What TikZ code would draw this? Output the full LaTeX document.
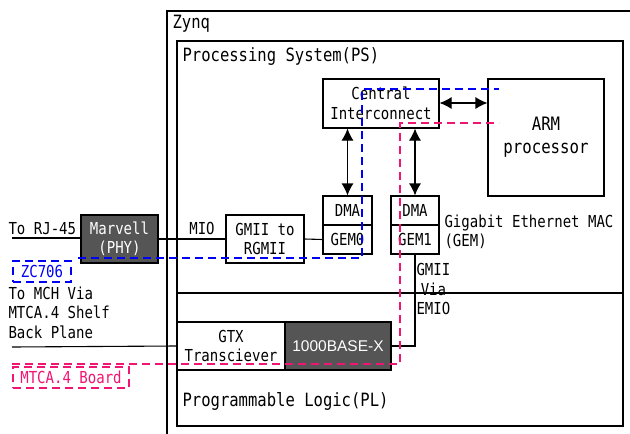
\documentclass[tikz,border=0pt]{standalone}
\usepackage{fontspec}
\setmainfont{DejaVu Sans Mono}[FakeStretch=0.85]
\newfontfamily\basefont{Liberation Sans}
\usetikzlibrary{positioning,arrows.meta}
\definecolor{darkgem}{RGB}{85,85,85}
\definecolor{zcblue}{RGB}{0,0,245}
\definecolor{mtcapink}{RGB}{240,20,115}
\begin{document}
\begin{tikzpicture}[
    x=1pt, y=-1pt,
    line width=1.1pt,
    box/.style={rectangle, draw, fill=white, inner sep=0pt, align=center, font=\fontsize{16.5}{19.5}\selectfont},
    darkbox/.style={box, fill=darkgem, text=white},
    title/.style={anchor=west, inner sep=0pt, font=\fontsize{18.3}{20}\selectfont},
    lbl/.style={inner sep=0pt, align=left, font=\fontsize{16.5}{19.5}\selectfont},
    zone/.style={dashed, dash pattern=on 8pt off 5pt, line width=1.2pt},
    tag/.style={draw, zone, inner sep=0pt, minimum height=21pt, font=\fontsize{16.5}{16}\selectfont},
    arrow/.style={{Latex[length=12pt,width=12pt]}-{Latex[length=12pt,width=12pt]}}
]
    \useasboundingbox (0,0) rectangle (630,434);

    % Zynq and PS / PL
    \draw (167,434) |- (630,11);
    \draw (177,41) rectangle (623,426);
    \draw (177,293) -- (623,293);
    \node[title] (zynq) at (172,24) {Zynq};
    \node[title] (ps) at (182,57) {Processing System(PS)};
    \node[title] (pl) at (182,401) {Programmable Logic(PL)};

    % PS blocks
    \node[box, minimum width=116pt, minimum height=49pt] (ci) at (381,103.5) {Central\\Interconnect};
    \node[box, minimum width=116pt, minimum height=117pt, font=\fontsize{18.5}{23}\selectfont] (arm) at (546,137.5) {ARM\\processor};
    \node[box, minimum width=49pt, minimum height=29pt] (dma0) at (347.5,210.5) {DMA};
    \node[box, minimum width=49pt, minimum height=29pt] (gem0) at (347.5,239.5) {GEM0};
    \node[box, minimum width=48pt, minimum height=29pt] (dma1) at (415,210.5) {DMA};
    \node[box, minimum width=48pt, minimum height=29pt] (gem1) at (415,239.5) {GEM1};
    \node[lbl, anchor=north west] (mac) at (444,214) {Gigabit Ethernet MAC\\(GEM)};
    \node[box, minimum width=78pt, minimum height=48pt] (rgmii) at (265,239) {GMII to\\RGMII};

    % PL blocks
    \node[box, minimum width=108pt, minimum height=48pt] (gtx) at (231,346) {GTX\\Transciever};
    \node[darkbox, minimum width=106pt, minimum height=48pt, font=\basefont\fontsize{15.5}{16}\selectfont] (base) at (338,346) {1000BASE-X};
    \node[lbl, align=center, anchor=north west] (emio) at (416,263) {GMII\\Via\\EMIO};

    % board side
    \node[darkbox, minimum width=77pt, minimum height=48pt] (phy) at (119.5,239) {Marvell\\(PHY)};
    \node[lbl, anchor=west] (rj) at (8,229) {To RJ-45};
    \node[lbl, anchor=north west] (mch) at (8,286) {To MCH Via\\MTCA.4 Shelf\\Back Plane};
    \node[lbl] (mio) at (202,228) {MIO};
    \coordinate (rjend) at (12,238);
    \coordinate (bpend) at (12,347);

    \draw (rjend) -- (rjend -| phy.west);
    \draw (phy.east) -- (rgmii.west);
    \draw (rgmii.east) -- (gem0.west);
    \draw (bpend) -- (gtx.west);
    \draw (gem1.south) |- (base.east);

    \draw[arrow] (ci.east |- 0,103) -- (arm.west |- 0,103);
    \draw[arrow] (dma0.north) -- (dma0.north |- ci.south);
    \draw[arrow] (dma1.north) -- (dma1.north |- ci.south);

    % ZC706 and MTCA.4 outlines
    \draw[zone, zcblue] (78,258) -- (362,258) -- (362,89) -- (499,89);
    \draw[zone, mtcapink] (12,364) -- (400,364) -- (400,123) -- (499,123);
    \node[tag, zcblue, text=zcblue, minimum width=58pt] (zc) at (42,271.5) {ZC706};
    \node[tag, mtcapink, text=mtcapink, minimum width=116pt] (mtca) at (71,377.5) {MTCA.4 Board};
\end{tikzpicture}
\end{document}
